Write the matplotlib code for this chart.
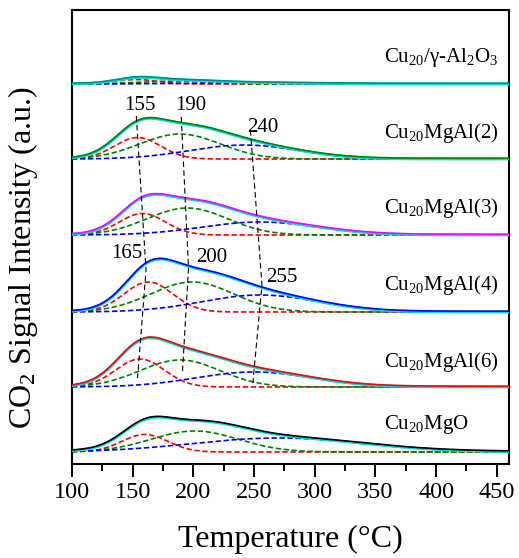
import numpy as np
import matplotlib
matplotlib.use("Agg")
import matplotlib.pyplot as plt
from matplotlib.ticker import MultipleLocator

plt.rcParams['font.family'] = ['Liberation Serif', 'DejaVu Serif']
plt.rcParams['mathtext.fontset'] = 'custom'
plt.rcParams['mathtext.rm'] = 'Liberation Serif'
plt.rcParams['mathtext.it'] = 'Liberation Serif:italic'

# ---- data ----
samples = ["Cu$_{20}$/γ-Al$_2$O$_3$", "Cu$_{20}$MgAl(2)", "Cu$_{20}$MgAl(3)",
           "Cu$_{20}$MgAl(4)", "Cu$_{20}$MgAl(6)", "Cu$_{20}$MgO"]
line_colors = ["#008b8b", "#008000", "#ff00ff", "#0000ff", "#ff0000", "#000000"]
offsets = [380, 305, 229, 152, 77, 12]

red_center = [153, 154, 158, 163, 156, 160]
red_height = [4.5, 21.5, 21.5, 30, 28, 17.5]
red_width = [17, 19, 19, 20, 20, 19]

green_center = [185, 189, 195, 199, 189, 201]
green_height = [3.0, 25, 27, 30, 27, 21]
green_width = [30, 33, 33, 34, 33, 36]

blue_center = [240, 242, 255, 255, 250, 270]
blue_height = [1.2, 14, 13, 17, 15, 14]
blue_width = [50, 45, 48, 48, 48, 70]

peak_labels = ["155", "190", "240", "165", "200", "255"]
peak_label_T = [156, 198, 257, 145, 215, 273]
peak_label_y = [359, 359, 337, 211, 207, 187]

guide_T = [[153, 161, 154], [190, 196, 191], [247, 256.5, 249]]
guide_y = [[348, 194, 86], [347, 196, 92], [334, 179, 81]]

label_T = 357
label_y = [407, 331, 256, 179, 102, 39]

T = np.linspace(100, 460, 721)

def gauss(x, c, h, w):
    return h * np.exp(-(x - c) ** 2 / (2 * w ** 2))

fig = plt.figure(figsize=(5.19, 5.58), dpi=100)
ax = fig.add_axes([0.1387, 0.1685, 0.8420, 0.8135])

dash = (3.2, 1.6)
for i in range(len(samples)):
    b = offsets[i]
    r = gauss(T, red_center[i], red_height[i], red_width[i])
    g = gauss(T, green_center[i], green_height[i], green_width[i])
    bl = gauss(T, blue_center[i], blue_height[i], blue_width[i])
    s = r + g + bl
    ax.plot(T, b + r, color="#ff0000", lw=1.2, dashes=dash, zorder=2)
    ax.plot(T, b + g, color="#008000", lw=1.2, dashes=dash, zorder=2)
    ax.plot(T, b + bl, color="#0000ff", lw=1.2, dashes=dash, zorder=2)
    ax.plot(T, b + s, color="#00dede", lw=2.0, zorder=3)
    ax.plot(T, b + s + 0.8, color=line_colors[i], lw=1.2, zorder=4)
    ax.text(label_T, label_y[i], samples[i], fontsize=15, ha='left', va='center')

for gt, gy in zip(guide_T, guide_y):
    ax.plot(gt, gy, color='black', lw=0.8, dashes=(5, 3), zorder=5)

for lab, lt, ly in zip(peak_labels, peak_label_T, peak_label_y):
    ax.text(lt, ly, lab, fontsize=15, ha='center', va='center')

ax.set_xlim(100, 460)
ax.set_ylim(0, 454)
ax.xaxis.set_major_locator(MultipleLocator(50))
ax.xaxis.set_minor_locator(MultipleLocator(25))
ax.tick_params(axis='x', which='major', direction='out', length=9, width=1.4,
               labelsize=17.5, pad=4)
ax.tick_params(axis='x', which='minor', direction='out', length=5, width=1.4)
ax.set_yticks([])
for sp in ax.spines.values():
    sp.set_linewidth(1.5)

ax.set_xlabel("Temperature (°C)", fontsize=23, labelpad=16)
ax.set_ylabel("CO$_2$ Signal Intensity (a.u.)", fontsize=23)
ax.yaxis.set_label_coords(-0.073, 0.454)

fig.savefig("out.png", dpi=100)
